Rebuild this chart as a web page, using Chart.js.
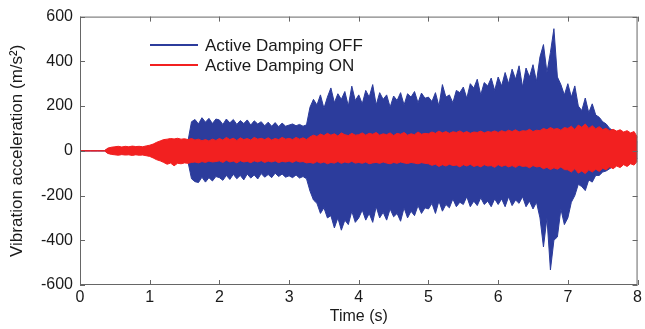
<!DOCTYPE html>
<html>
<head>
<meta charset="utf-8">
<script src="https://cdn.jsdelivr.net/npm/chart.js@4/dist/chart.umd.min.js"></script>
<style>
  html, body { margin: 0; padding: 0; background: #fff; }
  #wrap { width: 645px; height: 329px; }
</style>
</head>
<body>
<div id="wrap"><canvas id="vib"></canvas></div>
<script>
// Sampling step of the envelope readings (s)
const T_STEP = 0.05;

// Active Damping OFF: upper / lower envelope (m/s^2)
const offUpper = [
  0,0,0,0,0,0,0,0,10,12,14,15,14,15,14,16,15,16,15,17,
  20,25,30,35,40,42,45,45,45,45,45,45,130,140,120,148,128,145,122,142,
  138,118,142,125,140,118,135,122,138,115,134,120,130,112,128,110,126,108,124,110,
  115,120,112,118,110,116,195,230,205,250,190,240,281,215,255,230,265,200,289,225,
  250,210,270,240,296,205,260,230,250,195,245,225,260,205,255,240,265,215,258,235,
  240,220,260,200,296,240,250,215,270,260,285,235,300,280,320,250,305,290,325,270,
  330,290,350,300,365,320,380,285,370,330,385,310,420,475,350,440,546,330,296,250,
  300,240,290,200,180,236,170,210,160,150,130,120,100,90,80,70,60,55,50,45,
  40
];
const offLower = [
  0,0,0,0,0,0,0,0,-10,-12,-14,-15,-14,-15,-14,-16,-15,-16,-15,-17,
  -20,-25,-30,-35,-40,-45,-45,-50,-50,-50,-50,-50,-125,-138,-142,-118,-140,-120,-135,-115,
  -120,-132,-110,-128,-105,-125,-110,-130,-104,-122,-108,-126,-102,-118,-106,-120,-100,-115,-104,-118,
  -112,-120,-108,-122,-115,-125,-180,-220,-235,-280,-255,-300,-290,-345,-300,-355,-310,-330,-270,-320,
  -300,-265,-310,-280,-320,-250,-300,-275,-310,-260,-295,-280,-315,-255,-300,-270,-290,-245,-280,-255,
  -260,-235,-280,-225,-270,-240,-255,-215,-250,-230,-240,-205,-250,-225,-245,-210,-240,-225,-250,-215,
  -240,-215,-250,-205,-245,-220,-235,-205,-250,-225,-260,-230,-300,-430,-300,-533,-400,-385,-260,-330,
  -300,-230,-200,-150,-160,-178,-130,-140,-110,-110,-95,-90,-80,-70,-60,-55,-50,-45,-40,-40,
  -35
];

// Active Damping ON: upper / lower envelope (m/s^2)
const onUpper = [
  0,0,0,0,0,0,0,0,12,16,18,20,17,20,18,21,19,20,18,22,
  25,30,38,44,50,52,55,53,56,52,54,50,55,48,52,45,50,44,52,46,
  55,48,60,50,56,46,58,50,55,48,60,52,56,50,58,48,55,50,60,52,
  56,50,60,52,58,50,62,70,64,75,68,78,70,76,66,80,72,68,78,70,
  72,80,70,78,74,82,70,76,72,80,68,78,74,82,70,76,72,84,74,78,
  76,84,78,88,80,86,78,85,82,89,80,86,78,84,82,88,80,86,83,89,
  82,90,84,92,86,94,84,90,88,96,86,92,90,100,94,104,96,100,92,104,
  100,110,95,115,105,120,100,112,98,108,95,100,90,96,88,94,84,90,80,86,
  60
];
const onLower = [
  0,0,0,0,0,0,0,0,-12,-16,-18,-20,-17,-19,-18,-21,-18,-20,-19,-22,
  -25,-32,-40,-45,-52,-60,-55,-67,-56,-58,-54,-56,-52,-50,-54,-48,-52,-46,-50,-48,
  -45,-52,-42,-50,-46,-54,-44,-50,-47,-53,-45,-50,-44,-52,-46,-50,-45,-53,-47,-50,
  -46,-52,-44,-50,-48,-54,-52,-56,-48,-55,-50,-58,-52,-55,-48,-56,-50,-54,-47,-55,
  -52,-56,-50,-58,-54,-52,-56,-50,-55,-58,-52,-56,-50,-54,-57,-52,-55,-58,-53,-56,
  -58,-65,-60,-70,-62,-68,-60,-66,-64,-72,-62,-68,-60,-70,-65,-72,-62,-68,-66,-74,
  -62,-70,-64,-72,-66,-74,-64,-70,-68,-76,-66,-72,-70,-80,-74,-84,-76,-82,-72,-84,
  -85,-95,-80,-100,-90,-102,-85,-95,-82,-92,-78,-85,-72,-80,-68,-75,-62,-70,-58,-64,
  -45
];

const LABELS = ['Active Damping OFF', 'Active Damping ON'];
const BLUE = '#2c3c9c';
const RED = '#f22020';

const time = offUpper.map((_, i) => +(i * T_STEP).toFixed(2));
const pts = arr => arr.map((v, i) => ({ x: time[i], y: v }));

Chart.defaults.font.family = '"Liberation Sans", Arial, sans-serif';
Chart.defaults.color = '#1a1a1a';

// box + inward ticks, matlab style
const boxPlugin = {
  id: 'box',
  afterDatasetsDraw(chart) {
    const { ctx, chartArea: a, scales } = chart;
    ctx.save();
    ctx.strokeStyle = '#666';
    ctx.lineWidth = 1;
    ctx.strokeRect(a.left + 0.5, a.top + 0.5, a.right - a.left - 1, a.bottom - a.top - 1);
    ctx.beginPath();
    scales.x.ticks.forEach(t => {
      const px = Math.round(scales.x.getPixelForValue(t.value)) + 0.5;
      ctx.moveTo(px, a.bottom); ctx.lineTo(px, a.bottom - 5);
      ctx.moveTo(px, a.top); ctx.lineTo(px, a.top + 5);
    });
    scales.y.ticks.forEach(t => {
      const py = Math.round(scales.y.getPixelForValue(t.value)) + 0.5;
      ctx.moveTo(a.left, py); ctx.lineTo(a.left + 5, py);
      ctx.moveTo(a.right, py); ctx.lineTo(a.right - 5, py);
    });
    ctx.stroke();
    ctx.restore();
  }
};

const legendPlugin = {
  id: 'innerLegend',
  afterDraw(chart) {
    const ctx = chart.ctx;
    const items = [[LABELS[0], BLUE, 45], [LABELS[1], RED, 65]];
    ctx.save();
    ctx.font = '17px "Liberation Sans", Arial, sans-serif';
    ctx.textBaseline = 'middle';
    items.forEach(([txt, col, y]) => {
      ctx.strokeStyle = col;
      ctx.lineWidth = 2;
      ctx.beginPath();
      ctx.moveTo(150, y); ctx.lineTo(198, y);
      ctx.stroke();
      ctx.fillStyle = '#1a1a1a';
      ctx.fillText(txt, 205, y + 1);
    });
    ctx.restore();
  }
};

const band = (label, data, col, fill, order) => ({
  label, data, borderColor: col, backgroundColor: col, borderWidth: 1,
  pointRadius: 0, tension: 0, fill, order
});

new Chart(document.getElementById('vib'), {
  type: 'line',
  data: {
    datasets: [
      band(LABELS[0], pts(offUpper), BLUE, '+1', 1),
      band(LABELS[0], pts(offLower), BLUE, false, 1),
      band(LABELS[1], pts(onUpper), RED, '+1', 0),
      band(LABELS[1], pts(onLower), RED, false, 0)
    ]
  },
  options: {
    responsive: true,
    maintainAspectRatio: false,
    animation: false,
    layout: { padding: { top: 15, right: 7, left: 0, bottom: 0 } },
    plugins: { legend: { display: false }, tooltip: { enabled: false } },
    scales: {
      x: {
        type: 'linear', min: 0, max: 8,
        ticks: { stepSize: 1, padding: 3, font: { size: 16 }, color: '#1a1a1a', maxRotation: 0 },
        grid: { display: false, drawTicks: false },
        border: { display: false },
        title: { display: true, text: 'Time (s)', font: { size: 16 }, padding: { top: 0, bottom: 3 } },
        afterFit: s => { s.height = 44; }
      },
      y: {
        min: -600, max: 600,
        ticks: { stepSize: 200, padding: 7, font: { size: 16 }, color: '#1a1a1a' },
        grid: { display: false, drawTicks: false },
        border: { display: false },
        title: { display: true, text: 'Vibration acceleration (m/s²)', font: { size: 17 }, padding: { top: 7, bottom: 0 } },
        afterFit: s => { s.width = 80; }
      }
    }
  },
  plugins: [boxPlugin, legendPlugin]
});
</script>
</body>
</html>
